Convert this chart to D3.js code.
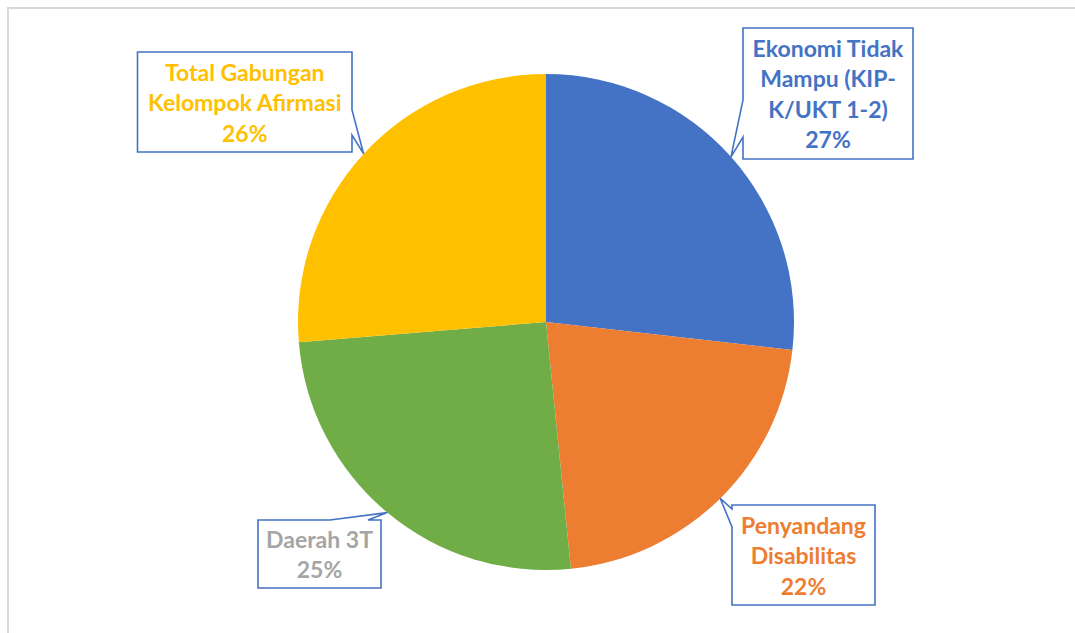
<!DOCTYPE html>
<html>
<head>
<meta charset="utf-8">
<script src="https://cdn.jsdelivr.net/npm/d3@7"></script>
<style>
  html, body { margin: 0; padding: 0; background: #fff; }
  svg { display: block; }
</style>
</head>
<body>
<svg id="chart" width="1075" height="633"></svg>
<script>
// ---- data ----
const categories = [
  "Ekonomi Tidak\nMampu (KIP-\nK/UKT 1-2)",
  "Penyandang\nDisabilitas",
  "Daerah 3T",
  "Total Gabungan\nKelompok Afirmasi"
];
const values = [26.8, 21.6, 25.3, 26.3];
const colors = ["#4472C4", "#ED7D31", "#70AD47", "#FFC000"];
const labelColors = ["#4472C4", "#ED7D31", "#A5A5A5", "#FFC000"];

// ---- layout for callout boxes (positions only) ----
const boxes = [
  { x: 743, y: 28, w: 170, h: 131, side: "left", a: 100, b: 137 },
  { x: 732, y: 505, w: 143, h: 100, side: "left", a: 509, b: 527 },
  { x: 258, y: 520, w: 123, h: 68, side: "top", a: 330, b: 368 },
  { x: 137.5, y: 52, w: 214.5, h: 100, side: "right", a: 110, b: 135 }
];

const svg = d3.select("#chart");
const cx = 546, cy = 322, R = 248;

// outer chart border
svg.append("rect")
  .attr("x", 8).attr("y", 8)
  .attr("width", 1080).attr("height", 640)
  .attr("fill", "#fff")
  .attr("stroke", "#D9D9D9").attr("stroke-width", 2);

const total = d3.sum(values);
const pie = d3.pie().sort(null).value(d => d)(values);
const arc = d3.arc().innerRadius(0).outerRadius(R);

const g = svg.append("g").attr("transform", `translate(${cx},${cy})`);
g.selectAll("path.slice")
  .data(pie)
  .join("path")
  .attr("class", "slice")
  .attr("d", arc)
  .attr("fill", (d, i) => colors[i]);

// callouts
function calloutPath(b, tip) {
  const x0 = b.x, y0 = b.y, x1 = b.x + b.w, y1 = b.y + b.h;
  const p = d3.path();
  p.moveTo(x0, y0);
  if (b.side === "top") {
    p.lineTo(b.a, y0); p.lineTo(tip[0], tip[1]); p.lineTo(b.b, y0);
  }
  p.lineTo(x1, y0);
  if (b.side === "right") {
    p.lineTo(x1, b.a); p.lineTo(tip[0], tip[1]); p.lineTo(x1, b.b);
  }
  p.lineTo(x1, y1);
  p.lineTo(x0, y1);
  if (b.side === "left") {
    p.lineTo(x0, b.b); p.lineTo(tip[0], tip[1]); p.lineTo(x0, b.a);
  }
  p.closePath();
  return p.toString();
}

const lineGap = 30.5;
pie.forEach((d, i) => {
  const mid = (d.startAngle + d.endAngle) / 2;
  const tip = [cx + R * Math.sin(mid), cy - R * Math.cos(mid)];
  const b = boxes[i];
  svg.append("path")
    .attr("d", calloutPath(b, tip))
    .attr("fill", "#fff")
    .attr("stroke", "#4472C4")
    .attr("stroke-width", 1.6)
    .attr("stroke-linejoin", "miter");

  const lines = categories[i].split("\n").concat([Math.round(values[i] / total * 100) + "%"]);
  const mx = b.x + b.w / 2;
  const my = b.y + b.h / 2 + 1;
  const t = svg.append("text")
    .attr("text-anchor", "middle")
    .attr("font-family", "Lato, 'Open Sans', sans-serif")
    .attr("font-weight", "bold")
    .attr("font-size", 23)
    .attr("fill", labelColors[i]);
  lines.forEach((ln, k) => {
    t.append("tspan")
      .attr("x", mx)
      .attr("y", my + (k - (lines.length - 1) / 2) * lineGap)
      .attr("dy", "0.35em")
      .text(ln);
  });
});
</script>
</body>
</html>
